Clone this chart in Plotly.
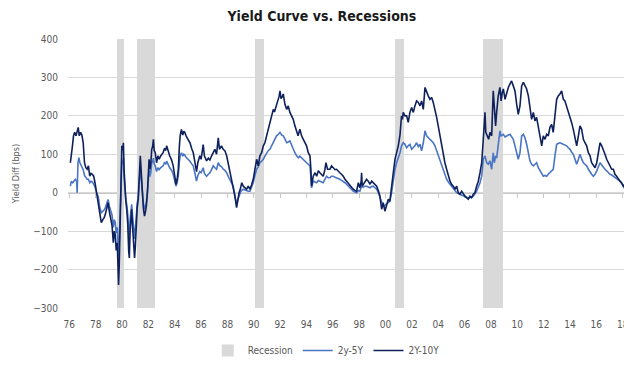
import plotly.graph_objects as go

# ---------------- data (decimal years, basis points) ----------------
dark_x = [1976.42,1976.5,1976.58,1976.66,1976.75,1976.85,1976.95,1977.02,1977.1,1977.2,1977.3,1977.4,1977.5,1977.6,1977.7,1977.8,1977.9,
1978.0,1978.1,1978.2,1978.3,1978.42,1978.55,1978.65,1978.78,1978.9,1979.0,1979.1,1979.2,1979.3,1979.4,1979.5,1979.6,1979.7,1979.78,1979.85,1979.92,
1980.0,1980.05,1980.1,1980.15,1980.2,1980.25,1980.3,1980.35,1980.42,1980.47,1980.52,1980.58,1980.65,1980.72,1980.8,1980.87,1980.92,1980.98,
1981.03,1981.1,1981.17,1981.25,1981.32,1981.38,1981.45,1981.52,1981.6,1981.65,1981.7,1981.76,1981.82,1981.88,1981.94,
1982.0,1982.08,1982.15,1982.22,1982.3,1982.37,1982.43,1982.5,1982.57,1982.63,1982.7,1982.76,1982.82,1982.9,
1983.0,1983.1,1983.2,1983.3,1983.4,1983.5,1983.6,1983.7,1983.77,1983.9,1984.0,1984.15,1984.27,1984.38,1984.48,1984.57,1984.66,1984.74,1984.8,1984.9,
1985.0,1985.08,1985.16,1985.25,1985.4,1985.55,1985.68,1985.8,1985.9,1986.0,1986.05,1986.15,1986.3,1986.4,1986.5,1986.56,1986.65,1986.75,1986.82,1986.95,
1987.07,1987.2,1987.33,1987.45,1987.58,1987.71,1987.8,1987.95,1988.09,1988.22,1988.35,1988.48,1988.6,1988.72,1988.85,1988.98,
1989.11,1989.2,1989.3,1989.4,1989.5,1989.62,1989.75,1989.87,1990.0,1990.13,1990.25,1990.38,1990.51,1990.64,1990.76,1990.89,
1991.02,1991.15,1991.27,1991.4,1991.53,1991.65,1991.78,1991.91,1992.0,1992.11,1992.25,1992.35,1992.42,1992.5,1992.6,1992.67,1992.8,1992.93,
1993.05,1993.18,1993.3,1993.43,1993.56,1993.69,1993.8,1993.94,1994.07,1994.2,1994.33,1994.45,1994.58,1994.71,1994.78,1994.83,1994.96,
1995.1,1995.22,1995.35,1995.47,1995.6,1995.72,1995.85,1995.93,1996.05,1996.23,1996.36,1996.49,1996.62,1996.74,1996.87,1996.99,
1997.12,1997.25,1997.38,1997.5,1997.63,1997.76,1997.89,1998.01,1998.14,1998.27,1998.4,1998.52,1998.62,1998.65,1998.7,1998.9,
1999.03,1999.16,1999.3,1999.42,1999.54,1999.67,1999.8,1999.93,2000.05,2000.18,2000.3,2000.43,2000.56,2000.69,2000.81,2000.94,
2001.07,2001.2,2001.32,2001.45,2001.58,2001.65,2001.7,2001.77,2001.83,2001.96,2002.09,2002.21,2002.34,2002.47,2002.6,2002.72,2002.85,2002.98,
2003.11,2003.23,2003.36,2003.49,2003.61,2003.74,2003.87,2004.0,2004.12,2004.25,2004.38,2004.5,2004.63,2004.76,2004.89,
2005.01,2005.14,2005.27,2005.4,2005.52,2005.65,2005.78,2005.91,2006.03,2006.16,2006.29,2006.41,2006.54,2006.67,2006.79,2006.92,
2007.05,2007.18,2007.3,2007.43,2007.56,2007.69,2007.82,2007.94,2008.07,2008.13,2008.25,2008.35,2008.45,2008.58,2008.7,2008.78,2008.88,2008.96,
2009.08,2009.21,2009.3,2009.39,2009.47,2009.6,2009.72,2009.85,2009.98,2010.1,2010.23,2010.36,2010.49,2010.61,2010.74,2010.87,
2011.0,2011.12,2011.25,2011.38,2011.5,2011.63,2011.76,2011.89,2012.01,2012.14,2012.27,2012.4,2012.52,2012.65,2012.78,2012.9,
2013.03,2013.16,2013.28,2013.41,2013.54,2013.66,2013.79,2013.92,2014.05,2014.17,2014.3,2014.43,2014.56,2014.68,2014.81,2014.94,
2015.07,2015.2,2015.32,2015.45,2015.58,2015.7,2015.83,2015.96,2016.09,2016.21,2016.34,2016.47,2016.6,2016.72,2016.85,2016.98,
2017.1,2017.23,2017.36,2017.49,2017.61,2017.74,2017.87,2017.99,2018.12,2018.25,2018.37,2018.5,2018.63,2018.75,2018.86]
dark_y = [78,96,122,148,157,148,165,170,148,157,150,130,78,65,61,70,43,
50,48,43,26,0,-17,-50,-78,-70,-65,-55,-43,-26,-50,-70,-85,-130,-100,-110,-150,
-130,-200,-240,-190,-100,-10,60,122,110,130,60,9,-20,-43,-80,-150,-170,-100,
-70,-43,-90,-130,-170,-140,-78,-40,-17,30,70,96,60,35,-10,
-43,-61,-50,-35,0,35,87,61,80,113,120,139,110,104,
78,96,87,95,100,104,115,110,122,105,96,85,70,45,22,35,61,120,148,165,
150,160,157,148,140,130,115,104,85,65,55,78,96,87,110,125,96,90,83,90,
85,96,104,113,100,143,113,122,113,109,96,75,52,35,17,-9,
-39,-17,0,10,26,17,12,9,17,9,20,35,61,87,70,96,
104,122,130,148,165,183,200,217,210,226,239,250,265,245,250,257,230,217,
226,209,200,191,174,157,148,165,148,139,130,122,104,96,60,17,43,
52,43,57,52,48,43,60,78,61,61,70,65,60,61,55,52,
48,43,35,30,22,17,13,9,6,4,26,13,30,52,17,26,
35,30,22,30,26,22,17,5,-9,-43,-26,-48,-35,-17,-22,9,
52,87,104,122,150,174,200,191,209,200,200,183,209,222,209,226,239,235,
226,239,217,274,261,252,243,248,235,217,196,174,148,122,96,
78,61,43,30,22,17,9,17,0,-4,4,-4,-9,-13,-17,-9,
-13,-4,0,17,30,52,78,139,209,157,148,139,157,148,265,217,174,209,
252,274,239,261,270,243,261,274,283,291,278,265,230,204,226,278,
287,278,270,252,217,191,209,187,196,170,148,122,148,139,152,148,
170,178,157,209,243,252,257,265,243,239,226,213,200,183,165,139,
122,148,174,165,139,130,122,104,96,78,70,65,78,100,130,122,
113,100,87,78,70,61,61,48,43,35,30,26,17,22,12]

light_x = [1976.42,1976.5,1976.6,1976.7,1976.8,1976.9,1976.94,1977.0,1977.07,1977.15,1977.25,1977.4,1977.5,1977.6,1977.7,1977.8,1977.9,
1978.0,1978.1,1978.2,1978.3,1978.42,1978.55,1978.65,1978.78,1978.9,1979.0,1979.1,1979.2,1979.3,1979.4,1979.5,1979.6,1979.7,1979.78,1979.85,1979.92,
1980.0,1980.05,1980.1,1980.15,1980.2,1980.25,1980.3,1980.35,1980.42,1980.47,1980.52,1980.58,1980.65,1980.72,1980.8,1980.87,1980.92,1980.98,
1981.03,1981.1,1981.17,1981.25,1981.32,1981.38,1981.45,1981.52,1981.6,1981.65,1981.7,1981.76,1981.82,1981.88,1981.94,
1982.0,1982.08,1982.15,1982.22,1982.3,1982.37,1982.43,1982.5,1982.57,1982.63,1982.7,1982.76,1982.82,1982.9,
1983.0,1983.1,1983.2,1983.3,1983.4,1983.5,1983.6,1983.7,1983.77,1983.9,1984.0,1984.15,1984.27,1984.38,1984.48,1984.57,1984.66,1984.74,1984.8,1984.9,
1985.0,1985.08,1985.16,1985.25,1985.4,1985.55,1985.68,1985.8,1985.9,1986.0,1986.05,1986.15,1986.3,1986.4,1986.5,1986.56,1986.65,1986.75,1986.82,1986.95,
1987.07,1987.2,1987.33,1987.45,1987.58,1987.71,1987.84,1987.95,1988.09,1988.22,1988.35,1988.48,1988.6,1988.72,1988.85,1988.98,
1989.11,1989.2,1989.3,1989.45,1989.62,1989.8,1990.0,1990.13,1990.25,1990.38,1990.51,1990.64,1990.76,1990.89,
1991.02,1991.15,1991.27,1991.4,1991.53,1991.65,1991.78,1991.91,1992.04,1992.16,1992.3,1992.42,1992.55,1992.67,1992.8,1992.93,
1993.05,1993.18,1993.3,1993.43,1993.56,1993.69,1993.82,1993.94,1994.07,1994.2,1994.33,1994.45,1994.58,1994.71,1994.78,1994.83,1994.96,
1995.09,1995.22,1995.35,1995.47,1995.6,1995.72,1995.85,1995.98,1996.1,1996.23,1996.36,1996.49,1996.62,1996.74,1996.87,1996.99,
1997.12,1997.25,1997.38,1997.5,1997.63,1997.76,1997.89,1998.01,1998.14,1998.27,1998.4,1998.52,1998.65,1998.78,1998.9,
1999.03,1999.16,1999.29,1999.42,1999.54,1999.67,1999.8,1999.93,2000.05,2000.18,2000.3,2000.43,2000.56,2000.69,2000.81,2000.94,
2001.07,2001.2,2001.32,2001.45,2001.58,2001.7,2001.83,2001.96,2002.09,2002.21,2002.34,2002.47,2002.6,2002.72,2002.85,2002.98,
2003.11,2003.23,2003.36,2003.49,2003.61,2003.74,2003.87,2004.0,2004.12,2004.25,2004.38,2004.5,2004.63,2004.76,2004.89,
2005.01,2005.14,2005.27,2005.4,2005.52,2005.65,2005.78,2005.91,2006.03,2006.16,2006.29,2006.41,2006.54,2006.67,2006.79,2006.92,
2007.05,2007.18,2007.3,2007.43,2007.56,2007.69,2007.82,2007.94,2008.07,2008.13,2008.2,2008.32,2008.45,2008.58,2008.7,2008.78,2008.88,2008.96,
2009.08,2009.21,2009.3,2009.47,2009.6,2009.72,2009.85,2009.98,2010.1,2010.23,2010.36,2010.49,2010.61,2010.74,2010.87,
2011.0,2011.12,2011.25,2011.38,2011.5,2011.63,2011.76,2011.89,2012.01,2012.14,2012.27,2012.4,2012.52,2012.65,2012.78,2012.9,
2013.03,2013.16,2013.28,2013.41,2013.54,2013.66,2013.79,2013.92,2014.05,2014.17,2014.3,2014.43,2014.56,2014.68,2014.81,2014.94,
2015.07,2015.2,2015.32,2015.45,2015.58,2015.7,2015.83,2015.96,2016.09,2016.21,2016.34,2016.47,2016.6,2016.72,2016.85,2016.98,
2017.1,2017.23,2017.36,2017.49,2017.61,2017.74,2017.87,2017.99,2018.12,2018.25,2018.37,2018.5,2018.63,2018.75,2018.86]
light_y = [17,30,26,30,35,30,0,78,91,78,70,60,45,40,35,35,26,
30,28,22,15,0,-10,-35,-52,-48,-45,-38,-30,-18,-35,-48,-58,-90,-70,-78,-105,
-90,-140,-165,-130,-70,-5,40,85,75,90,40,5,-15,-30,-55,-105,-120,-70,
-50,-30,-60,-90,-120,-95,-55,-28,-12,20,50,68,42,24,-8,
-30,-43,-35,-25,0,25,60,42,55,78,80,90,75,70,
55,65,60,65,68,70,78,75,82,72,65,58,48,32,17,26,45,80,96,104,
95,100,98,92,88,82,75,70,55,40,30,45,55,52,62,65,50,45,43,48,
52,60,70,65,61,78,70,68,61,58,52,42,35,25,17,-9,
-30,-18,-9,5,9,6,4,4,15,26,45,61,68,78,
82,87,95,104,110,113,122,130,140,148,152,157,150,148,140,130,
132,135,125,113,104,96,91,95,90,87,82,78,74,70,40,13,30,
28,26,32,30,28,26,35,43,39,39,43,43,40,39,37,35,
32,30,26,22,17,13,8,4,2,0,6,4,17,14,17,
17,15,13,16,17,13,9,0,-13,-28,-35,-33,-30,-25,-22,0,
35,61,78,90,104,122,130,126,117,122,126,113,117,122,130,120,
126,109,130,161,148,143,139,135,130,122,109,98,87,74,61,
48,35,28,22,15,9,4,0,-2,-4,-6,-9,-11,-13,-14,-13,
-11,-9,-3,4,15,26,43,87,96,85,78,74,83,61,104,78,96,90,
130,161,148,152,145,148,150,152,145,139,122,104,87,104,148,
152,143,126,104,83,74,70,74,78,65,57,48,43,45,43,48,
52,55,61,96,126,128,130,128,126,124,122,117,113,106,100,87,
74,87,100,88,78,74,70,61,52,48,43,48,57,68,78,72,
65,61,57,52,48,46,43,39,35,32,30,24,17,12,4]

recession_start = [1980.0, 1981.5, 1990.5, 2001.17, 2007.92]
recession_end = [1980.5, 1982.87, 1991.2, 2001.88, 2009.47]

y_min, y_max = -300, 400
tick_years = list(range(1976, 2019, 2))
tick_text = [f"{y % 100:02d}" for y in tick_years]

# ---------------- figure ----------------
FONT = "DejaVu Sans Condensed, Liberation Sans Narrow, Roboto, sans-serif"
GRID = "#d9d9d9"
TXT = "#595959"

fig = go.Figure()

fig.add_trace(go.Bar(
    x=[(s + e) / 2 for s, e in zip(recession_start, recession_end)],
    width=[e - s for s, e in zip(recession_start, recession_end)],
    y=[y_max - y_min] * len(recession_start),
    base=[y_min] * len(recession_start),
    marker=dict(color="#d9d9d9", line=dict(width=0)),
    name="Recession", hoverinfo="skip",
))
fig.add_trace(go.Scatter(x=light_x, y=light_y, mode="lines", name="2y-5Y",
                         line=dict(color="#4a74c4", width=1.6)))
fig.add_trace(go.Scatter(x=dark_x, y=dark_y, mode="lines", name="2Y-10Y",
                         line=dict(color="#0f215c", width=1.6), xaxis="x2"))

x_range = [1976.24, 2018.91]
tickvals = [1976.34 + i * 2.0115 for i in range(len(tick_years))]

# The page body has an 8px default margin; the figure is sized so that it
# fits inside the 632x366 window without scrolling.
fig.update_layout(
    width=624, height=358,
    margin=dict(l=60, r=5, t=31, b=58, autoexpand=False),
    paper_bgcolor="white", plot_bgcolor="white",
    font=dict(family=FONT, size=10, color=TXT),
    title=dict(text="<b>Yield Curve vs. Recessions</b>", x=0.503, xanchor="center",
               y=0.978, yanchor="middle",
               font=dict(family=FONT, size=14, color="#1a1a1a")),
    bargap=0,
    showlegend=True,
    legend=dict(orientation="h", x=0.462, xanchor="center", y=-0.104, yanchor="top",
                font=dict(family=FONT, size=10, color=TXT), itemwidth=30,
                traceorder="normal", tracegroupgap=0),
    xaxis=dict(range=x_range, showgrid=False, zeroline=False, showline=False,
               automargin=False,
               tickmode="array", tickvals=tickvals, ticktext=tick_text,
               ticks="", ticklabelstandoff=9,
               tickfont=dict(family=FONT, size=10, color=TXT)),
    xaxis2=dict(range=x_range, overlaying="x", anchor="free",
                position=(0 - y_min) / (y_max - y_min), automargin=False,
                showgrid=False, zeroline=False, showline=True, linecolor="#c8c8c8",
                linewidth=1, tickmode="array", tickvals=tickvals, ticks="outside",
                ticklen=4, tickcolor="#c8c8c8", showticklabels=False,
                layer="below traces"),
    yaxis=dict(range=[y_min, y_max], dtick=100, showgrid=True, gridcolor=GRID,
               gridwidth=1, zeroline=False, showline=False, ticks="",
               automargin=False, ticklabelstandoff=9,
               title=dict(text="Yield Diff (bps)", standoff=12,
                          font=dict(family=FONT, size=9, color=TXT)),
               tickfont=dict(family=FONT, size=10, color=TXT)),
)

fig.write_html("out.html")
